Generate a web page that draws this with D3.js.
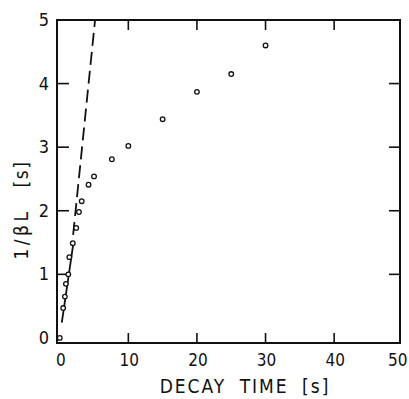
<!DOCTYPE html>
<html>
<head>
<meta charset="utf-8">
<script src="https://cdn.jsdelivr.net/npm/d3@7"></script>
<style>
  body { margin: 0; background: #fff; }
  text { font-family: "DejaVu Sans Condensed", "DejaVu Sans", sans-serif; fill: #111; }
</style>
</head>
<body>
<div class="canvas"></div>
<script>
// data
const decayTime = [0, 0.5, 0.75, 0.9, 1.25, 1.4, 1.9, 2.4, 2.8, 3.2, 4.2, 5, 7.6, 10, 15, 20, 25, 30];
const invBetaL = [0, 0.47, 0.65, 0.85, 1.0, 1.27, 1.49, 1.73, 1.98, 2.15, 2.41, 2.54, 2.81, 3.02, 3.44, 3.87, 4.15, 4.6];
const solidFit = [[0.3, 0.24], [2.0, 1.5]];
const dashedFit = [[1.95, 1.62], [5.15, 5]];
const xTicks = [0, 10, 20, 30, 40, 50];
const yTicks = [0, 1, 2, 3, 4, 5];

const svg = d3.select('.canvas')
    .append('svg')
    .attr('width', 409)
    .attr('height', 399);

// plot frame
const frame = { left: 57, right: 400, top: 20, bottom: 343 };

const x = d3.scaleLinear().domain([-0.4, 49.6]).range([frame.left, frame.right]);
const y = d3.scaleLinear().domain([-0.08, 5]).range([frame.bottom, frame.top]);

// ticks on all four sides, pointing inward
const inner = [10, 20, 30, 40];
svg.selectAll('.xtb').data(inner).enter().append('line')
    .attr('x1', d => x(d)).attr('x2', d => x(d))
    .attr('y1', frame.bottom).attr('y2', frame.bottom - 10)
    .attr('stroke', '#111').attr('stroke-width', 1.6);
svg.selectAll('.xtt').data(inner).enter().append('line')
    .attr('x1', d => x(d)).attr('x2', d => x(d))
    .attr('y1', frame.top).attr('y2', frame.top + 10)
    .attr('stroke', '#111').attr('stroke-width', 1.6);
const innerY = [1, 2, 3, 4];
svg.selectAll('.ytl').data(innerY).enter().append('line')
    .attr('x1', frame.left).attr('x2', frame.left + 12)
    .attr('y1', d => y(d)).attr('y2', d => y(d))
    .attr('stroke', '#111').attr('stroke-width', 1.6);
svg.selectAll('.ytr').data(innerY).enter().append('line')
    .attr('x1', frame.right).attr('x2', frame.right - 11)
    .attr('y1', d => y(d)).attr('y2', d => y(d))
    .attr('stroke', '#111').attr('stroke-width', 1.6);

svg.append('rect')
    .attr('x', frame.left).attr('y', frame.top)
    .attr('width', frame.right - frame.left).attr('height', frame.bottom - frame.top)
    .attr('fill', 'none').attr('stroke', '#111').attr('stroke-width', 2);

// tick labels (the last one is pulled in so it stays on the page)
svg.selectAll('.xl').data(xTicks).enter().append('text')
    .attr('x', d => d === 50 ? x(d) - 5 : x(d) + 1)
    .attr('y', frame.bottom + 23)
    .attr('text-anchor', 'middle')
    .attr('font-size', 17)
    .text(d => d);
svg.selectAll('.yl').data(yTicks).enter().append('text')
    .attr('x', frame.left - 8)
    .attr('y', d => y(d) + 6)
    .attr('text-anchor', 'end')
    .attr('font-size', 18)
    .text(d => d);

// axis titles
svg.append('text')
    .attr('x', 245).attr('y', 393)
    .attr('text-anchor', 'middle')
    .attr('font-size', 19)
    .attr('letter-spacing', 2)
    .attr('word-spacing', 6)
    .text('DECAY TIME [s]');
svg.append('text')
    .attr('transform', 'translate(28,234) rotate(-90)')
    .attr('text-anchor', 'middle')
    .attr('font-size', 19)
    .attr('letter-spacing', 3.5)
    .text('1/βL');
svg.append('text')
    .attr('transform', 'translate(28,174) rotate(-90)')
    .attr('text-anchor', 'middle')
    .attr('font-size', 19)
    .attr('letter-spacing', 1.5)
    .text('[s]');

// fit lines
const line = d3.line().x(d => x(d[0])).y(d => y(d[1]));
svg.append('path')
    .attr('d', line(solidFit))
    .attr('fill', 'none').attr('stroke', '#111').attr('stroke-width', 1.8);
svg.append('path')
    .attr('d', line(dashedFit))
    .attr('fill', 'none').attr('stroke', '#111').attr('stroke-width', 1.8)
    .attr('stroke-dasharray', '13,6');

// data points
svg.selectAll('circle').data(decayTime).enter().append('circle')
    .attr('cx', d => x(d))
    .attr('cy', (d, i) => y(invBetaL[i]))
    .attr('r', 2.3)
    .attr('fill', '#fff')
    .attr('stroke', '#111')
    .attr('stroke-width', 1.3);
</script>
</body>
</html>
